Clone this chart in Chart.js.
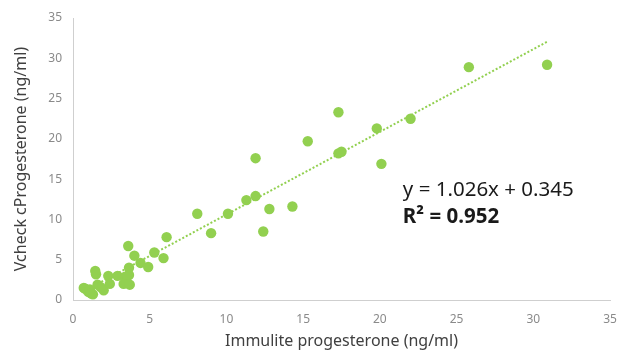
<!DOCTYPE html>
<html>
<head>
<meta charset="utf-8">
<script src="https://cdn.jsdelivr.net/npm/chart.js@4.4.1/dist/chart.umd.min.js"></script>
<style>
html,body{margin:0;padding:0;background:#fff;}
#wrap{width:623px;height:351px;position:relative;}
</style>
</head>
<body>
<div id="wrap"><canvas id="c" width="623" height="351"></canvas></div>
<script>
const immulite = [30.9,25.8,22.0,19.8,17.3,15.3,17.3,17.5,20.1,11.9,11.3,11.9,12.8,14.3,8.1,10.1,9.0,12.4,6.1,3.6,4.0,5.3,5.9,4.4,4.9,3.65,3.65,3.4,3.3,3.7,2.9,2.3,1.5,1.45,0.8,1.3,2.0,1.6,2.4,1.0,0.7,1.1,1.8,1.2];
const vcheck   = [29.2,28.9,22.5,21.3,23.3,19.7,18.2,18.4,16.9,17.6,12.4,12.9,11.3,11.6,10.7,10.7,8.3,8.5,7.8,6.7,5.5,5.9,5.2,4.6,4.1,4.0,3.1,2.9,2.0,1.9,3.0,3.0,3.2,3.6,1.4,0.7,1.2,1.9,2.0,1.0,1.5,1.3,1.6,0.8];
const slope = 1.026, intercept = 0.345, r2 = 0.952;
const xTicks = [0,5,10,15,20,25,30,35];
const yTicks = [0,5,10,15,20,25,30,35];
const xTitle = 'Immulite progesterone (ng/ml)';
const yTitle = 'Vcheck cProgesterone (ng/ml)';

const points = immulite.map((x,i)=>({x:x,y:vcheck[i]}));
const xmin = Math.min(...immulite), xmax = Math.max(...immulite);
const trend = [{x:xmin,y:slope*xmin+intercept},{x:xmax,y:slope*xmax+intercept}];

const FONT = "'Noto Sans', 'Open Sans', sans-serif";

const eqPlugin = {
  id:'eq',
  afterDatasetsDraw(chart){
    const ctx = chart.ctx, xs = chart.scales.x, ys = chart.scales.y;
    ctx.save();
    ctx.fillStyle = '#1a1a1a';
    ctx.textAlign = 'left';
    ctx.textBaseline = 'alphabetic';
    const x0 = xs.getPixelForValue(21.5);
    ctx.font = "20.5px " + FONT;
    ctx.fillText('y = ' + slope.toFixed(3) + 'x + ' + intercept.toFixed(3), x0, ys.getPixelForValue(12.95));
    ctx.font = "bold 20.5px " + FONT;
    ctx.fillText('R² = ' + r2.toFixed(3), x0, ys.getPixelForValue(9.6));
    ctx.restore();
  }
};

new Chart(document.getElementById('c'), {
  type:'scatter',
  data:{datasets:[
    {type:'line', data:trend, borderColor:'#92d050', borderWidth:2, borderDash:[2,2], pointRadius:0, fill:false, order:2},
    {data:points, backgroundColor:'#92d050', borderColor:'#92d050', pointRadius:5.2, pointHoverRadius:5.2, borderWidth:0, order:1}
  ]},
  options:{
    responsive:false, animation:false,
    layout:{padding:{top:18,right:13,left:0,bottom:0}},
    plugins:{legend:{display:false}, tooltip:{enabled:false}},
    scales:{
      x:{type:'linear', min:0, max:35,
        afterBuildTicks(s){ s.ticks = xTicks.map(v=>({value:v})); },
        afterFit(s){ s.height = 51; s.paddingRight = 0; s.paddingLeft = 0; },
        grid:{display:false, drawTicks:false},
        border:{display:true, color:'#cfcfcf', width:1},
        ticks:{color:'#8a8a8a', font:{family:FONT, size:12}, padding:12, maxRotation:0},
        title:{display:true, text:xTitle, color:'#404040', font:{family:FONT, size:16}, padding:{top:4,bottom:0}}
      },
      y:{type:'linear', min:0, max:35,
        afterBuildTicks(s){ s.ticks = yTicks.map(v=>({value:v})); },
        afterFit(s){ s.width = 73; s.paddingTop = 0; s.paddingBottom = 0; },
        grid:{display:false, drawTicks:false},
        border:{display:true, color:'#cfcfcf', width:1},
        ticks:{color:'#8a8a8a', font:{family:FONT, size:12}, padding:11},
        title:{display:true, text:yTitle, color:'#404040', font:{family:FONT, size:16}, padding:{top:12,bottom:0}}
      }
    }
  },
  plugins:[eqPlugin]
});
</script>
</body>
</html>
